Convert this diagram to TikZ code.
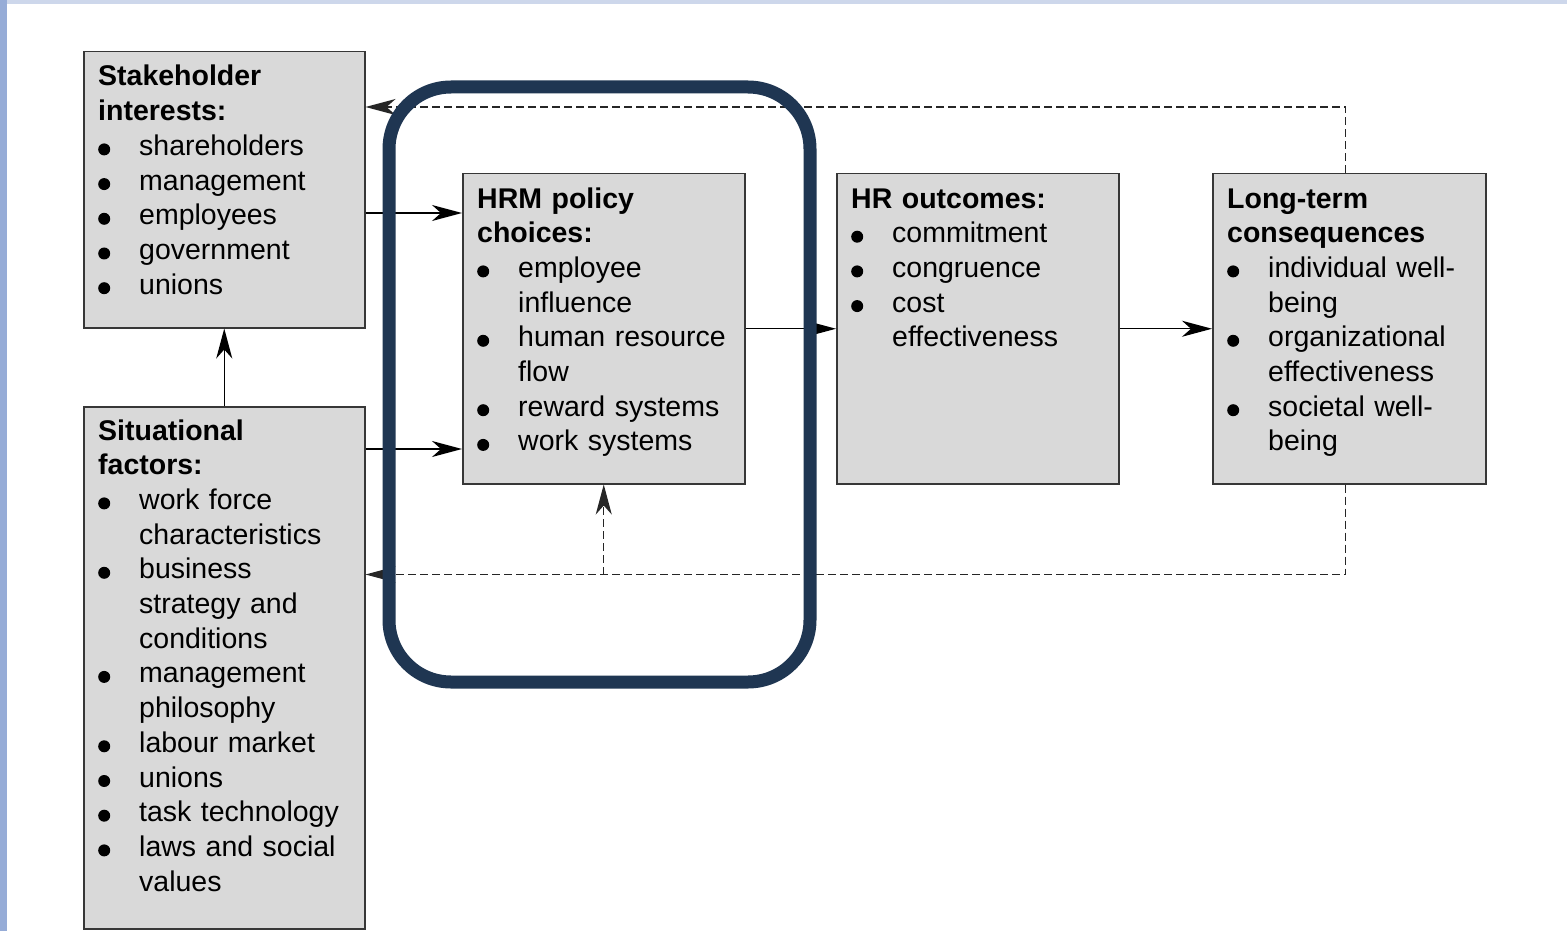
\documentclass[tikz,border=0pt]{standalone}
\usepackage{fontspec}
\setmainfont{Liberation Sans}
\usetikzlibrary{arrows.meta,calc}
\definecolor{navy}{RGB}{31,54,82}
\definecolor{boxfill}{RGB}{217,217,217}
\definecolor{boxline}{RGB}{55,55,55}
\definecolor{stripL}{RGB}{150,172,215}
\definecolor{stripT}{RGB}{205,215,235}
\newcommand{\bul}{\makebox[41pt][l]{\raisebox{0pt}{\tikz\fill[black] (0,0) circle (6pt);}}}
\newcommand{\ind}{\makebox[41pt]{}}
\tikzset{
  box/.style={draw=boxline, line width=1.5pt, fill=boxfill, inner sep=0pt, anchor=north west},
  txt/.style={anchor=base west, inner sep=0pt, text width=300pt, align=left,
    font=\fontsize{28.5}{34.7}\selectfont},
  arr/.style={line width=1.4pt, draw=black, -{Stealth[length=30pt,width=16pt,inset=9pt]}},
  darr/.style={line width=1.3pt, draw=black!85, dash pattern=on 8pt off 4pt},
  darrh/.style={darr, -{Stealth[length=30pt,width=16pt,inset=9pt]}},
}
\begin{document}
\begin{tikzpicture}[x=1pt,y=-1pt]
\useasboundingbox (0,0) rectangle (1567,931);
\fill[white] (0,0) rectangle (1567,931);
\fill[stripT] (0,0) rectangle (1567,4);
\fill[stripL] (0,0) rectangle (7,931);

% boxes
\node[box, minimum width=281pt, minimum height=276pt] (sh) at (83,51) {};
\node[box, minimum width=281pt, minimum height=522pt] (sf) at (83,406) {};
\node[box, minimum width=282pt, minimum height=310pt] (hrm) at (462,173) {};
\node[box, minimum width=282pt, minimum height=310pt] (hr) at (836,173) {};
\node[box, minimum width=273pt, minimum height=310pt] (lt) at (1212,173) {};

% texts
\node[txt] (sht) at (98,86) {\textbf{Stakeholder}\\\textbf{interests:}\\
\bul shareholders\\\bul management\\\bul employees\\\bul government\\\bul unions};
\node[txt] (sft) at (98,440) {\textbf{Situational}\\\textbf{factors:}\\
\bul work force\\\ind characteristics\\\bul business\\\ind strategy and\\\ind conditions\\
\bul management\\\ind philosophy\\\bul labour market\\\bul unions\\\bul task technology\\
\bul laws and social\\\ind values};
\node[txt] (hrmt) at (477,208) {\textbf{HRM policy}\\\textbf{choices:}\\
\bul employee\\\ind influence\\\bul human resource\\\ind flow\\\bul reward systems\\\bul work systems};
\node[txt] (hrt) at (851,208) {\textbf{HR outcomes:}\\
\bul commitment\\\bul congruence\\\bul cost\\\ind effectiveness};
\node[txt] (ltt) at (1227,208) {\textbf{Long-term}\\\textbf{consequences}\\
\bul individual well-\\\ind being\\\bul organizational\\\ind effectiveness\\\bul societal well-\\\ind being};

% solid connectors
\coordinate (s1) at ($(sh.north east)+(0,162)$);
\draw[arr] (s1) -- (s1 -| hrm.west);
\coordinate (s2) at ($(sf.north east)+(0,43)$);
\draw[arr] (s2) -- (s2 -| hrm.west);
\draw[arr] (sf.north) -- (sh.south);
\draw[arr] (hrm.east) -- (hr.west);
\draw[arr] (hr.east) -- (lt.west);

% dashed feedback
\coordinate (ltn) at ($(lt.north)+(-3.5,0)$);
\coordinate (lts) at ($(lt.south)+(-3.5,0)$);
\coordinate (t1) at ($(ltn)+(0,-66)$);
\draw[darrh] (ltn) -- (t1) -- (t1 -| sh.east);
\coordinate (b1) at ($(lts)+(0,90)$);
\draw[darrh] (lts) -- (b1) -- (b1 -| sf.east);
\coordinate (b2) at (b1 -| hrm.south);
\draw[darrh] (b2) -- (hrm.south);

% highlight
\node[draw=navy, line width=13pt, rounded corners=62pt, inner sep=0pt,
  minimum width=421pt, minimum height=595pt] (hl) at (599.5,384.5) {};
\end{tikzpicture}
\end{document}
